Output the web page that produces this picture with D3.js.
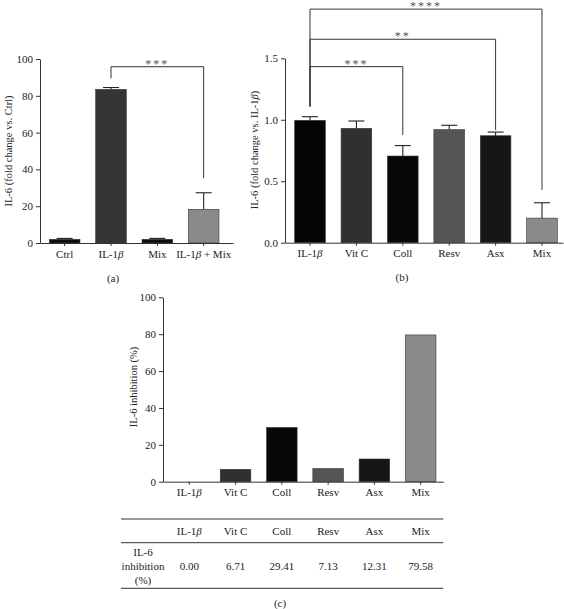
<!DOCTYPE html>
<html>
<head>
<meta charset="utf-8">
<script src="https://cdn.jsdelivr.net/npm/d3@7"></script>
<style>
body { margin: 0; background: #fff; }
text { font-family: "Liberation Serif", "DejaVu Serif", serif; fill: #222; }
.axis path, .axis line { stroke: #333; stroke-width: 1; }
</style>
</head>
<body>
<svg id="chart" width="564" height="609"></svg>
<script>
// (a) IL-6 fold change vs. Ctrl
var catsA = ["Ctrl", "IL-1β", "Mix", "IL-1β + Mix"];
var meanA = [2.0, 83.5, 2.0, 18.3];
var semA = [0.5, 1.0, 0.5, 9.0];
var ticksA = [0, 20, 40, 60, 80, 100];

// (b) IL-6 fold change vs. IL-1β
var catsB = ["IL-1β", "Vit C", "Coll", "Resv", "Asx", "Mix"];
var meanB = [0.995, 0.93, 0.705, 0.92, 0.87, 0.20];
var semB = [0.03, 0.06, 0.085, 0.035, 0.03, 0.125];
var ticksB = [0, 0.5, 1.0, 1.5];

// (c) IL-6 inhibition (%)
var catsC = ["IL-1β", "Vit C", "Coll", "Resv", "Asx", "Mix"];
var inhibC = [0.00, 6.71, 29.41, 7.13, 12.31, 79.58];
var ticksC = [0, 20, 40, 60, 80, 100];

// significance brackets, levels in data units
var bracketsA = [
    { from: "IL-1β", to: "IL-1β + Mix", level: 95.8, fromEnd: 89.5, toEnd: 35.2, mark: "***" }
];
var bracketsB = [
    { from: "IL-1β", to: "Coll", level: 1.432, fromEnd: 1.107, toEnd: 0.876, mark: "***" },
    { from: "IL-1β", to: "Asx", level: 1.655, fromEnd: 1.107, toEnd: 0.917, mark: "**" },
    { from: "IL-1β", to: "Mix", level: 1.90, fromEnd: 1.107, toEnd: 0.429, mark: "****" }
];

var svg = d3.select("#chart");

// write text, beta in italics
function setLabel(sel, str) {
    sel.text(null);
    var parts = str.split("β");
    for (var i = 0; i < parts.length; i++) {
        if (parts[i]) sel.append("tspan").text(parts[i]);
        if (i < parts.length - 1) sel.append("tspan").style("font-style", "italic").text("β");
    }
}

function drawPanel(opt) {
    var g = svg.append("g");

    var x = d3.scaleBand()
        .domain(opt.cats)
        .range(opt.xRange)
        .paddingInner(0.34)
        .paddingOuter(opt.padOuter)
        .align(opt.align);

    var y = d3.scaleLinear()
        .domain(opt.yDomain)
        .range(opt.yRange);

    g.selectAll("rect.bar")
        .data(opt.values)
        .enter()
        .append("rect")
        .attr("class", "bar")
        .attr("x", function(d, i) { return x(opt.cats[i]); })
        .attr("width", x.bandwidth())
        .attr("y", function(d) { return y(d); })
        .attr("height", function(d) { return y(0) - y(d); })
        .attr("fill", function(d, i) { return opt.colors[i]; })
        .attr("stroke", "#333")
        .attr("stroke-width", 0.6);

    if (opt.errors) {
        var eb = g.selectAll("g.err")
            .data(opt.errors)
            .enter()
            .append("g")
            .attr("class", "err");
        eb.append("line")
            .attr("x1", function(d, i) { return x(opt.cats[i]) + x.bandwidth() / 2; })
            .attr("x2", function(d, i) { return x(opt.cats[i]) + x.bandwidth() / 2; })
            .attr("y1", function(d, i) { return y(opt.values[i]); })
            .attr("y2", function(d, i) { return y(opt.values[i] + d); })
            .attr("stroke", "#222").attr("stroke-width", 1.1);
        eb.append("line")
            .attr("x1", function(d, i) { return x(opt.cats[i]) + x.bandwidth() / 2 - 8; })
            .attr("x2", function(d, i) { return x(opt.cats[i]) + x.bandwidth() / 2 + 8; })
            .attr("y1", function(d, i) { return y(opt.values[i] + d); })
            .attr("y2", function(d, i) { return y(opt.values[i] + d); })
            .attr("stroke", "#222").attr("stroke-width", 1.1);
    }

    var yAxis = g.append("g")
        .attr("class", "axis")
        .attr("transform", "translate(" + opt.xRange[0] + ",0)")
        .call(d3.axisLeft(y).tickValues(opt.ticks).tickSize(4).tickSizeOuter(0).tickPadding(3)
            .tickFormat(opt.tickFormat || d3.format("d")));
    yAxis.selectAll("text").style("font-size", "11px").style("font-family", null);

    var xAxis = g.append("g")
        .attr("class", "axis")
        .attr("transform", "translate(0," + y(0) + ")")
        .call(d3.axisBottom(x).tickSize(3).tickSizeOuter(0).tickPadding(4));
    xAxis.selectAll("text")
        .style("font-size", "11px")
        .style("font-family", null)
        .each(function(d) { setLabel(d3.select(this), d); });

    var yl = g.append("text")
        .attr("transform", "translate(" + opt.yLabelX + "," + opt.yLabelY + ") rotate(-90)")
        .attr("text-anchor", "middle")
        .attr("dy", "0.35em")
        .style("font-size", "10.5px");
    setLabel(yl, opt.yLabel);

    (opt.brackets || []).forEach(function(b) {
        var x1 = x(b.from) + x.bandwidth() / 2;
        var x2 = x(b.to) + x.bandwidth() / 2;
        g.append("path")
            .attr("d", "M" + x1 + "," + y(b.fromEnd) + "V" + y(b.level) + "H" + x2 + "V" + y(b.toEnd))
            .attr("fill", "none")
            .attr("stroke", "#333")
            .attr("stroke-width", 1);
        g.append("text")
            .attr("x", (x1 + x2) / 2)
            .attr("y", y(b.level) + 1)
            .attr("text-anchor", "middle")
            .style("font-size", "12px")
            .style("letter-spacing", "2px")
            .style("fill", "#555")
            .text(b.mark);
    });

    if (opt.tag) {
        g.append("text")
            .attr("x", opt.tag[0]).attr("y", opt.tag[1])
            .attr("text-anchor", "middle")
            .attr("dy", "0.35em")
            .style("font-size", "11px")
            .text(opt.tagText);
    }

    return { x: x, y: y };
}

drawPanel({
    cats: catsA, values: meanA, errors: semA, ticks: ticksA,
    xRange: [40, 233], padOuter: 0.2525, align: 0.4,
    yDomain: [0, 100], yRange: [243, 59],
    colors: ["#0d0d0d", "#353535", "#0d0d0d", "#8a8a8a"],
    yLabel: "IL-6 (fold change vs. Ctrl)", yLabelX: 8, yLabelY: 151,
    brackets: bracketsA,
    tag: [113, 278], tagText: "(a)"
});

drawPanel({
    cats: catsB, values: meanB, errors: semB, ticks: ticksB,
    xRange: [285, 563], padOuter: 0.166, align: 0.63,
    yDomain: [0, 1.5], yRange: [242.7, 58.3],
    tickFormat: d3.format(".1f"),
    colors: ["#050505", "#303030", "#080808", "#555555", "#161616", "#8a8a8a"],
    yLabel: "IL-6 (fold change vs. IL-1β)", yLabelX: 254, yLabelY: 150,
    brackets: bracketsB,
    tag: [402, 277], tagText: "(b)"
});

var pc = drawPanel({
    cats: catsC, values: inhibC, ticks: ticksC,
    xRange: [163, 443.3], padOuter: 0.198, align: 0.6,
    yDomain: [0, 100], yRange: [481.7, 297.3],
    colors: ["#050505", "#303030", "#080808", "#555555", "#161616", "#8a8a8a"],
    yLabel: "IL-6 inhibition (%)", yLabelX: 133, yLabelY: 387,
    tag: [280, 603], tagText: "(c)"
});

// table under panel (c)
var tbl = svg.append("g");
var tblLeft = 121, tblRight = 443.3;
[519, 542.7, 588.3].forEach(function(ly) {
    tbl.append("line")
        .attr("x1", tblLeft).attr("x2", tblRight)
        .attr("y1", ly).attr("y2", ly)
        .attr("stroke", "#333").attr("stroke-width", 1);
});

var colX = function(c) { return pc.x(c) + pc.x.bandwidth() / 2; };

tbl.selectAll("text.head")
    .data(catsC)
    .enter()
    .append("text")
    .attr("class", "head")
    .attr("x", colX)
    .attr("y", 531)
    .attr("dy", "0.35em")
    .attr("text-anchor", "middle")
    .style("font-size", "11px")
    .each(function(d) { setLabel(d3.select(this), d); });

tbl.selectAll("text.val")
    .data(inhibC)
    .enter()
    .append("text")
    .attr("class", "val")
    .attr("x", function(d, i) { return colX(catsC[i]); })
    .attr("y", 566)
    .attr("dy", "0.35em")
    .attr("text-anchor", "middle")
    .style("font-size", "11px")
    .text(d3.format(".2f"));

["IL-6", "inhibition", "(%)"].forEach(function(s, i) {
    tbl.append("text")
        .attr("x", 143)
        .attr("y", 552 + i * 14)
        .attr("dy", "0.35em")
        .attr("text-anchor", "middle")
        .style("font-size", "11px")
        .text(s);
});
</script>
</body>
</html>
